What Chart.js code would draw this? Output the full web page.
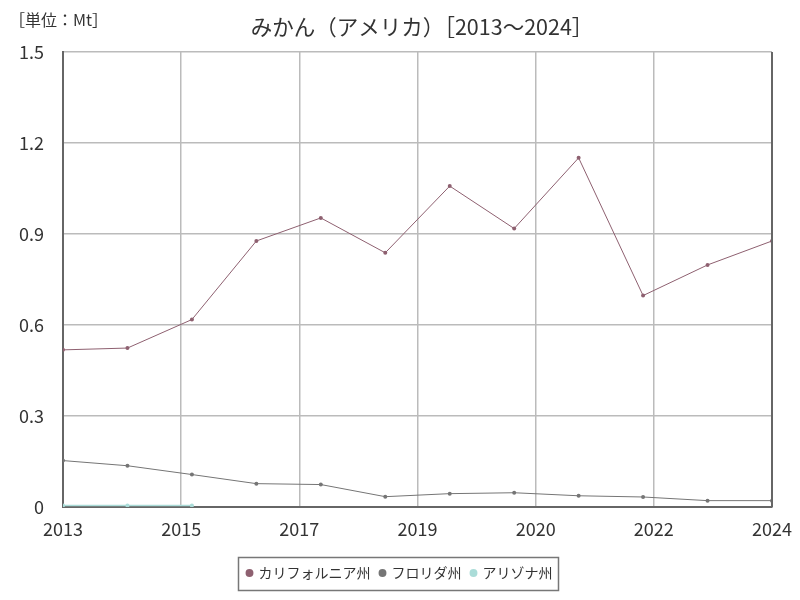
<!DOCTYPE html>
<html>
<head>
<meta charset="utf-8">
<script src="https://cdn.jsdelivr.net/npm/chart.js@4"></script>
<style>
html,body{margin:0;padding:0;background:#fff;}
#wrap{width:800px;height:600px;position:relative;}
</style>
</head>
<body>
<div id="wrap"><canvas id="c" width="800" height="600"></canvas></div>
<script>
const years = [2013, 2014, 2015, 2016, 2017, 2018, 2019, 2020, 2021, 2022, 2023, 2024];
const california = [0.518, 0.524, 0.618, 0.877, 0.953, 0.838, 1.058, 0.918, 1.151, 0.697, 0.798, 0.877];
const florida = [0.153, 0.136, 0.107, 0.077, 0.074, 0.034, 0.044, 0.047, 0.037, 0.033, 0.021, 0.021];
const arizona = [0.005, 0.005, 0.005, null, null, null, null, null, null, null, null, null];
const seriesNames = ['カリフォルニア州', 'フロリダ州', 'アリゾナ州'];
const xTickLabels = ['2013', '2015', '2017', '2019', '2020', '2022', '2024'];
const yTickLabels = ['0', '0.3', '0.6', '0.9', '1.2', '1.5'];
const titleText = 'みかん（アメリカ）［2013～2024］';
const unitText = '［単位：Mt］';

const FONT = "'Noto Sans CJK JP', 'Noto Sans', sans-serif";
const pts = arr => years.map((y, i) => ({x: y, y: arr[i]}));

const legendBox = {
  id: 'legendBox',
  afterDraw(chart) {
    const lg = chart.legend;
    if (!lg || !lg.legendHitBoxes || !lg.legendHitBoxes.length) return;
    const hb = lg.legendHitBoxes;
    let l = Infinity, r = -Infinity, t = Infinity, b = -Infinity;
    hb.forEach(h => { l = Math.min(l, h.left); r = Math.max(r, h.left + h.width); t = Math.min(t, h.top); b = Math.max(b, h.top + h.height); });
    const cy = (t + b) / 2;
    const ctx = chart.ctx;
    ctx.save();
    ctx.strokeStyle = '#777';
    ctx.lineWidth = 1.5;
    ctx.strokeRect(Math.round(l - 10) + 0.5, Math.round(cy - 16) + 0.5, Math.round(r - l + 15), 33);
    ctx.restore();
  }
};

const texts = {
  id: 'texts',
  afterDraw(chart) {
    const ctx = chart.ctx;
    ctx.save();
    ctx.fillStyle = '#333';
    ctx.textBaseline = 'middle';
    ctx.font = "16px " + FONT;
    ctx.textAlign = 'left';
    ctx.fillText(unitText, 9, 20);
    ctx.font = "21.5px " + FONT;
    ctx.textAlign = 'center';
    ctx.fillText(titleText, 422, 27);
    ctx.restore();
  }
};

new Chart(document.getElementById('c'), {
  type: 'line',
  data: {
    datasets: [
      {label: seriesNames[0], data: pts(california), borderColor: '#8e6070', backgroundColor: '#8e6070', borderWidth: 1, pointRadius: 2, pointBorderWidth: 0, pointHoverRadius: 2, tension: 0},
      {label: seriesNames[1], data: pts(florida), borderColor: '#757575', backgroundColor: '#757575', borderWidth: 1, pointRadius: 2, pointBorderWidth: 0, pointHoverRadius: 2, tension: 0},
      {label: seriesNames[2], data: pts(arizona), borderColor: '#aadcd8', backgroundColor: '#aadcd8', borderWidth: 1.5, pointRadius: 2, pointBorderWidth: 0, pointHoverRadius: 2, tension: 0, spanGaps: false}
    ]
  },
  options: {
    responsive: false,
    animation: false,
    layout: {padding: {top: 52, left: 0, right: 0, bottom: 10}},
    plugins: {
      title: {display: false},
      tooltip: {enabled: false},
      legend: {
        position: 'bottom',
        labels: {
          usePointStyle: true, pointStyle: 'circle', boxWidth: 4, boxHeight: 5.6,
          padding: 10, color: '#333',
          font: {family: FONT, size: 14}
        }
      }
    },
    scales: {
      x: {
        type: 'linear',
        min: years[0], max: years[years.length - 1],
        afterBuildTicks(scale) {
          const n = xTickLabels.length - 1;
          scale.ticks = xTickLabels.map((_, i) => ({value: scale.min + (scale.max - scale.min) * i / n}));
        },
        afterFit(scale) { scale.height = 49; scale.paddingRight = 28; scale.paddingLeft = 0; },
        ticks: {
          autoSkip: false, maxRotation: 0, padding: 11, color: '#333',
          font: {family: FONT, size: 18},
          callback: (v, i) => xTickLabels[i]
        },
        grid: {color: '#bbb', lineWidth: 1.5, drawTicks: false},
        border: {color: '#666', width: 2}
      },
      y: {
        min: 0, max: 1.5,
        afterBuildTicks(scale) {
          scale.ticks = yTickLabels.map(t => ({value: parseFloat(t)}));
        },
        afterFit(scale) { scale.width = 63; },
        ticks: {
          padding: 19, color: '#333',
          font: {family: FONT, size: 18},
          callback: (v, i) => yTickLabels[i]
        },
        grid: {color: '#bbb', lineWidth: 1.5, drawTicks: false},
        border: {color: '#666', width: 2}
      }
    }
  },
  plugins: [legendBox, texts, {
    id: 'rightBorder',
    afterDatasetsDraw(chart) {
      const a = chart.chartArea, ctx = chart.ctx;
      ctx.save();
      ctx.strokeStyle = '#666'; ctx.lineWidth = 2;
      ctx.beginPath(); ctx.moveTo(a.right, a.top); ctx.lineTo(a.right, a.bottom); ctx.stroke();
      ctx.restore();
    }
  }]
});
</script>
</body>
</html>
